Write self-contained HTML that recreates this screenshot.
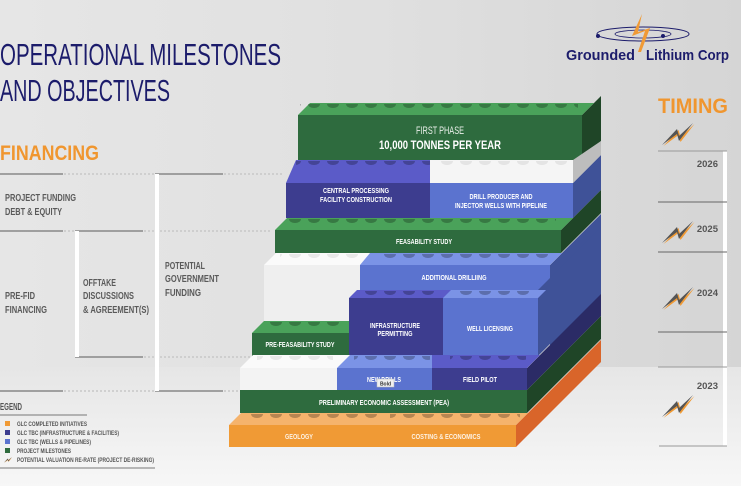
<!DOCTYPE html>
<html><head><meta charset="utf-8"><style>
html,body{margin:0;padding:0;width:741px;height:486px;overflow:hidden;background:#e4e4e4}
svg{display:block}
text{font-family:"Liberation Sans Narrow","Liberation Sans",sans-serif;font-weight:bold}
text.n{font-weight:normal}
</style></head><body>
<svg width="741" height="486" viewBox="0 0 741 486" xmlns="http://www.w3.org/2000/svg">
<defs>
<linearGradient id="bgt" x1="0" y1="0" x2="1" y2="0"><stop offset="0" stop-color="#e6e6e6"/><stop offset="0.5" stop-color="#e0e0e0"/><stop offset="1" stop-color="#d5d5d5"/></linearGradient>
<linearGradient id="bgb" x1="0" y1="0" x2="0" y2="1"><stop offset="0" stop-color="#e6e6e6"/><stop offset="1" stop-color="#f7f7f7"/></linearGradient>
<pattern id="st" patternUnits="userSpaceOnUse" width="19" height="8"><path d="M4,0 a6,4 0 0 0 12,0 z" fill="rgba(0,0,0,0.25)"/></pattern>
<pattern id="sw" patternUnits="userSpaceOnUse" width="19" height="8"><path d="M4,0 a6,4 0 0 0 12,0 z" fill="rgba(0,0,0,0.07)"/></pattern>
<g id="bolt"><polygon points="0,22 15,6 17,13 31,0 17,18 15,11" fill="#f09a35" transform="translate(1.5,1)"/><polygon points="0,22 15,6 17,13 31,0 17,18 15,11" fill="#555"/></g>
</defs>
<rect width="741" height="367" fill="url(#bgt)"/>
<rect y="367" width="741" height="119" fill="url(#bgb)"/>

<!-- title -->
<text class="n" x="0" y="65" font-size="31" fill="#1c1c6b" textLength="281" lengthAdjust="spacingAndGlyphs">OPERATIONAL MILESTONES</text>
<text class="n" x="0" y="101" font-size="31" fill="#1c1c6b" textLength="170" lengthAdjust="spacingAndGlyphs">AND OBJECTIVES</text>
<text x="0" y="160" font-size="21" fill="#f0962f" textLength="99" lengthAdjust="spacingAndGlyphs">FINANCING</text>

<!-- logo -->
<ellipse cx="643" cy="34" rx="46" ry="7" fill="none" stroke="#1c1c6b" stroke-width="1"/>
<ellipse cx="643" cy="34" rx="28" ry="4" fill="none" stroke="#1c1c6b" stroke-width="0.8"/>
<circle cx="598" cy="36" r="2" fill="#1c1c6b"/><circle cx="663" cy="36" r="2" fill="#1c1c6b"/>
<polygon points="642,14 632,36 645,31 638,52 641,52 650,28 638,32" fill="#f09a35"/>
<text x="566" y="60" font-size="15" fill="#1c1c6b" textLength="69" lengthAdjust="spacingAndGlyphs" style="font-family:'Liberation Sans',sans-serif">Grounded</text>
<text x="646" y="60" font-size="15" fill="#1c1c6b" textLength="83" lengthAdjust="spacingAndGlyphs" style="font-family:'Liberation Sans',sans-serif">Lithium Corp</text>

<!-- financing lines -->
<g stroke-width="1.5">
<line x1="0" y1="174" x2="63" y2="174" stroke="#888"/><line x1="64" y1="174" x2="155" y2="174" stroke="#c8c8c8" stroke-dasharray="2,2"/>
<line x1="155" y1="174" x2="223" y2="174" stroke="#888"/><line x1="224" y1="174" x2="283" y2="174" stroke="#c8c8c8" stroke-dasharray="2,2"/>
<line x1="0" y1="231" x2="63" y2="231" stroke="#888"/><line x1="64" y1="231" x2="75" y2="231" stroke="#c8c8c8" stroke-dasharray="2,2"/>
<line x1="75" y1="231" x2="143" y2="231" stroke="#888"/><line x1="144" y1="231" x2="272" y2="231" stroke="#c8c8c8" stroke-dasharray="2,2"/>
<line x1="75" y1="357" x2="143" y2="357" stroke="#888"/><line x1="144" y1="357" x2="252" y2="357" stroke="#c8c8c8" stroke-dasharray="2,2"/>
<line x1="0" y1="391" x2="63" y2="391" stroke="#888"/><line x1="64" y1="391" x2="155" y2="391" stroke="#c8c8c8" stroke-dasharray="2,2"/>
<line x1="155" y1="391" x2="223" y2="391" stroke="#888"/><line x1="224" y1="391" x2="240" y2="391" stroke="#c8c8c8" stroke-dasharray="2,2"/>
</g>
<rect x="155" y="174" width="4" height="217" fill="#fff"/>
<rect x="75" y="231" width="4" height="126" fill="#fff"/>
<g font-size="10.5" fill="#5a5a5a">
<text x="5" y="201" textLength="71" lengthAdjust="spacingAndGlyphs">PROJECT FUNDING</text>
<text x="5" y="215" textLength="57" lengthAdjust="spacingAndGlyphs">DEBT &amp; EQUITY</text>
<text x="5" y="299" textLength="30" lengthAdjust="spacingAndGlyphs">PRE-FID</text>
<text x="5" y="313" textLength="42" lengthAdjust="spacingAndGlyphs">FINANCING</text>
<text x="83" y="286" textLength="33" lengthAdjust="spacingAndGlyphs">OFFTAKE</text>
<text x="83" y="299" textLength="51" lengthAdjust="spacingAndGlyphs">DISCUSSIONS</text>
<text x="83" y="313" textLength="66" lengthAdjust="spacingAndGlyphs">&amp; AGREEMENT(S)</text>
<text x="165" y="269" textLength="40" lengthAdjust="spacingAndGlyphs">POTENTIAL</text>
<text x="165" y="282" textLength="54" lengthAdjust="spacingAndGlyphs">GOVERNMENT</text>
<text x="165" y="296" textLength="36" lengthAdjust="spacingAndGlyphs">FUNDING</text>
</g>

<!-- legend -->
<text x="0" y="410" font-size="10" fill="#555" textLength="22" lengthAdjust="spacingAndGlyphs">EGEND</text>
<line x1="0" y1="415" x2="87" y2="415" stroke="#777" stroke-width="1"/>
<rect x="5" y="421" width="5" height="5" fill="#f09a35"/>
<rect x="5" y="430" width="5" height="5" fill="#3d3d8f"/>
<rect x="5" y="439" width="5" height="5" fill="#5b73cf"/>
<rect x="5" y="448" width="5" height="5" fill="#2e6b3e"/>
<g transform="translate(4,457) scale(0.25)"><use href="#bolt"/></g>
<g font-size="6" fill="#555">
<text x="17" y="426" textLength="70" lengthAdjust="spacingAndGlyphs">GLC COMPLETED INITIATIVES</text>
<text x="17" y="435" textLength="102" lengthAdjust="spacingAndGlyphs">GLC TBC (INFRASTRUCTURE &amp; FACILITIES)</text>
<text x="17" y="444" textLength="74" lengthAdjust="spacingAndGlyphs">GLC TBC (WELLS &amp; PIPELINES)</text>
<text x="17" y="453" textLength="54" lengthAdjust="spacingAndGlyphs">PROJECT MILESTONES</text>
<text x="17" y="462" textLength="137" lengthAdjust="spacingAndGlyphs">POTENTIAL VALUATION RE-RATE (PROJECT DE-RISKING)</text>
</g>
<line x1="0" y1="468" x2="155" y2="468" stroke="#777" stroke-width="1"/>

<!-- timing -->
<text x="658" y="113" font-size="21" fill="#f0962f" textLength="70" lengthAdjust="spacingAndGlyphs">TIMING</text>
<g transform="translate(662,123)"><use href="#bolt"/></g>
<g transform="translate(662,221)"><use href="#bolt"/></g>
<g transform="translate(662,287)"><use href="#bolt"/></g>
<g transform="translate(662,395)"><use href="#bolt"/></g>
<rect x="723" y="151" width="4" height="295" fill="#fff"/>
<g stroke="#666" stroke-width="1"><line x1="658" y1="151" x2="727" y2="151" stroke="#999"/><line x1="658" y1="202" x2="727" y2="202"/><line x1="658" y1="252" x2="727" y2="252"/><line x1="658" y1="332" x2="727" y2="332"/><line x1="658" y1="367" x2="727" y2="367" stroke="#999"/><line x1="659" y1="446" x2="727" y2="446" stroke="#999"/></g>
<g font-size="9.5" fill="#555" text-anchor="end">
<text x="718" y="167">2026</text><text x="718" y="232">2025</text><text x="718" y="296">2024</text><text x="718" y="389">2023</text>
</g>

<!-- blocks: top layer first -->
<polygon points="582,115 582,160 601,141 601,96" fill="#1f4527"/>
<polygon points="298,115 582,115 594,103 310,103" fill="#4aa25a"/>
<rect x="300" y="103" width="278" height="6" fill="url(#st)"/>
<rect x="298" y="115" width="284" height="45" fill="#2e6b3e"/>
<text class="n" x="440" y="134" font-size="11" fill="#e8efe8" text-anchor="middle" textLength="48" lengthAdjust="spacingAndGlyphs">FIRST PHASE</text>
<text x="440" y="149" font-size="12" fill="#fff" text-anchor="middle" textLength="122" lengthAdjust="spacingAndGlyphs">10,000 TONNES PER YEAR</text>
<!-- row 2 -->
<polygon points="573,183 573,218 601,190 601,155" fill="#3f5298"/>
<polygon points="573,160 573,183 601,155 601,141" fill="#bdbdbd"/>
<polygon points="286,183 430,183 430,160 296,160" fill="#5b5bc8"/>
<rect x="430" y="160" width="143" height="23" fill="#f5f5f5"/>
<g transform="translate(0,161)"><rect x="296" y="0" width="134" height="6" fill="url(#st)"/><rect x="437" y="0" width="133" height="6" fill="url(#sw)"/></g>
<rect x="286" y="183" width="144" height="35" fill="#3d3d8f"/>
<rect x="430" y="183" width="143" height="35" fill="#5b73cf"/>
<g font-size="7.5" fill="#fff" text-anchor="middle">
<text x="356" y="193" textLength="66" lengthAdjust="spacingAndGlyphs">CENTRAL PROCESSING</text>
<text x="356" y="202" textLength="72" lengthAdjust="spacingAndGlyphs">FACILITY CONSTRUCTION</text>
<text x="501" y="199" textLength="63" lengthAdjust="spacingAndGlyphs">DRILL PRODUCER AND</text>
<text x="501" y="208" textLength="92" lengthAdjust="spacingAndGlyphs">INJECTOR WELLS WITH PIPELINE</text>
</g>
<!-- feasibility -->
<polygon points="561,230 561,253 601,213 601,190" fill="#1f4527"/>
<polygon points="275,230 561,230 573,218 287,218" fill="#4aa25a"/>
<g transform="translate(0,219)"><rect x="286" y="0" width="270" height="6" fill="url(#st)"/></g>
<rect x="275" y="230" width="286" height="23" fill="#2e6b3e"/>
<text x="424" y="244" font-size="7.5" fill="#fff" text-anchor="middle" textLength="56" lengthAdjust="spacingAndGlyphs">FEASABILITY STUDY</text>
<!-- additional drilling row -->
<polygon points="550,265 550,356 601,305 601,214" fill="#3f5298"/>
<polygon points="264,265 550,265 562,253 276,253" fill="#fafafa"/>
<polygon points="360,265 550,265 562,253 370,253" fill="#7b93e6"/>
<g transform="translate(0,254)"><rect x="280" y="0" width="80" height="6" fill="url(#sw)"/><rect x="378" y="0" width="170" height="6" fill="url(#st)"/></g>
<rect x="264" y="265" width="96" height="91" fill="#efefef"/>
<rect x="360" y="265" width="190" height="25" fill="#5b73cf"/>
<text x="454" y="280" font-size="7.5" fill="#fff" text-anchor="middle" textLength="65" lengthAdjust="spacingAndGlyphs">ADDITIONAL DRILLIING</text>
<!-- infra / well licensing -->
<polygon points="538,290 538,356 601,293 601,227" fill="#3f5298"/>
<polygon points="349,298 538,298 546,290 357,290" fill="#5b5bc8"/>
<polygon points="443,298 538,298 546,290 451,290" fill="#7b93e6"/>
<g transform="translate(0,291)"><rect x="365" y="0" width="76" height="5" fill="url(#st)"/><rect x="460" y="0" width="76" height="5" fill="url(#st)"/></g>
<rect x="349" y="298" width="94" height="58" fill="#3d3d8f"/>
<rect x="443" y="298" width="95" height="58" fill="#5b73cf"/>
<g font-size="7.5" fill="#fff" text-anchor="middle">
<text x="395" y="328" textLength="50" lengthAdjust="spacingAndGlyphs">INFRASTRUCTURE</text>
<text x="395" y="336" textLength="35" lengthAdjust="spacingAndGlyphs">PERMITTING</text>
<text x="490" y="331" textLength="46" lengthAdjust="spacingAndGlyphs">WELL LICENSING</text>
</g>
<!-- pre-feasibility -->
<polygon points="252,333 349,333 349,321 264,321" fill="#4aa25a"/>
<g transform="translate(0,322)"><rect x="270" y="0" width="76" height="6" fill="url(#st)"/></g>
<rect x="252" y="333" width="97" height="23" fill="#2e6b3e"/>
<text x="300" y="347" font-size="7.5" fill="#fff" text-anchor="middle" textLength="69" lengthAdjust="spacingAndGlyphs">PRE-FEASABILITY STUDY</text>
<!-- new drills row -->
<polygon points="527,368 527,390 601,316 601,294" fill="#2b2b66"/>
<polygon points="240,368 527,368 540,355 253,355" fill="#fafafa"/>
<polygon points="337,368 432,368 432,355 350,355" fill="#7b93e6"/>
<polygon points="432,368 527,368 540,355 432,355" fill="#5b5bc8"/>
<g transform="translate(0,356)"><rect x="257" y="0" width="76" height="6" fill="url(#sw)"/><rect x="354" y="0" width="76" height="6" fill="url(#st)"/><rect x="450" y="0" width="76" height="6" fill="url(#st)"/></g>
<rect x="240" y="368" width="97" height="22" fill="#f3f3f3"/>
<rect x="337" y="368" width="95" height="22" fill="#5b73cf"/>
<rect x="432" y="368" width="95" height="22" fill="#3d3d8f"/>
<g font-size="7.5" fill="#fff" text-anchor="middle">
<text x="384" y="382" textLength="34" lengthAdjust="spacingAndGlyphs">NEW DRILLS</text>
<text x="480" y="382" textLength="34" lengthAdjust="spacingAndGlyphs">FIELD PILOT</text>
</g>
<rect x="377" y="379" width="17" height="8" fill="#f0f0f0" stroke="#bbb" stroke-width="0.5"/>
<text x="385.5" y="385.5" font-size="5" fill="#333" text-anchor="middle">Bold</text>
<!-- PEA -->
<polygon points="527,390 527,413 601,339 601,316" fill="#1f4527"/>
<rect x="240" y="390" width="287" height="23" fill="#2e6b3e"/>
<text x="384" y="405" font-size="7.5" fill="#fff" text-anchor="middle" textLength="130" lengthAdjust="spacingAndGlyphs">PRELIMINARY ECONOMIC ASSESSMENT (PEA)</text>
<!-- orange -->
<polygon points="516,425 516,447 601,362 601,340" fill="#d9652a"/>
<polygon points="229,425 516,425 528,413 241,413" fill="#f5b36c"/>
<g transform="translate(0,414)"><rect x="244" y="0" width="135" height="6" fill="url(#st)"/><rect x="390" y="0" width="130" height="6" fill="url(#st)"/></g>
<rect x="229" y="425" width="287" height="22" fill="#f09a35"/>
<g font-size="7.5" fill="#fdf1e2" text-anchor="middle">
<text x="299" y="439" textLength="28" lengthAdjust="spacingAndGlyphs">GEOLOGY</text>
<text x="446" y="439" textLength="69" lengthAdjust="spacingAndGlyphs">COSTING &amp; ECONOMICS</text>
</g>
</svg>
</body></html>
